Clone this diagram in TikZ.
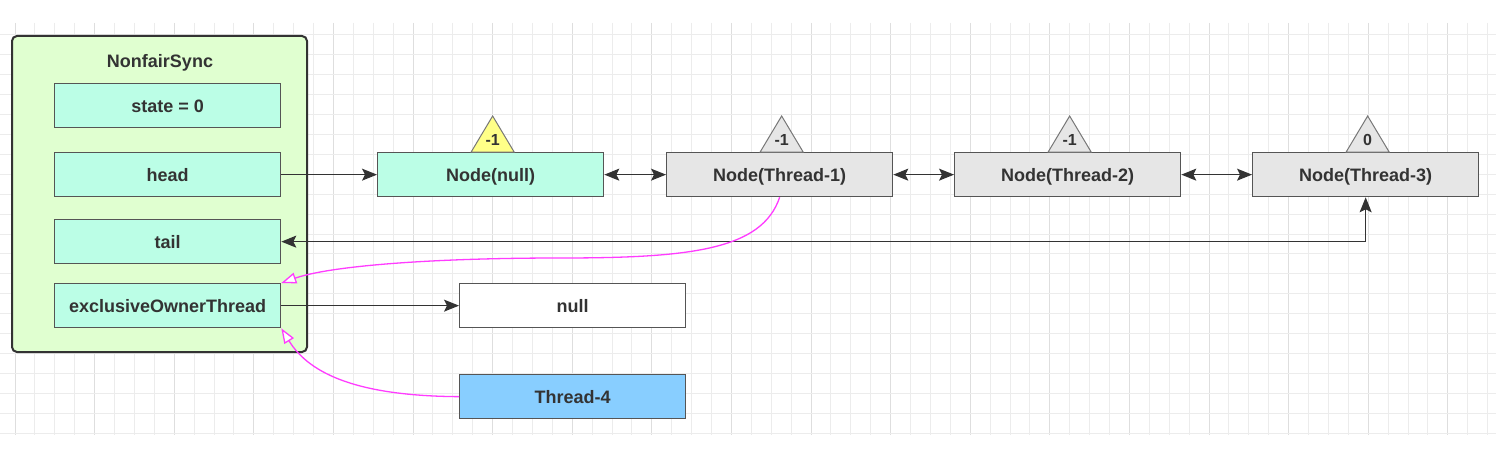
\documentclass[tikz,border=0pt]{standalone}
\usepackage{fontspec}
\setmainfont{Liberation Sans}
\usetikzlibrary{arrows.meta,calc}
\definecolor{gridminor}{RGB}{236,236,236}
\definecolor{gridmajor}{RGB}{222,222,222}
\definecolor{boxline}{RGB}{85,85,85}
\definecolor{txt}{RGB}{51,51,51}
\definecolor{mint}{RGB}{187,254,230}
\definecolor{greybox}{RGB}{230,230,230}
\definecolor{syncfill}{RGB}{224,255,208}
\definecolor{bluebox}{RGB}{136,206,255}
\definecolor{yellowtri}{RGB}{255,255,136}
\definecolor{pinkc}{RGB}{255,60,255}
\definecolor{arrowc}{RGB}{51,51,51}
\tikzset{
  fld/.style={draw=boxline, line width=1.3pt, minimum width=226pt, minimum height=44pt,
    inner sep=0pt, anchor=north west, text=txt, text height=13pt, text depth=0pt,
    font=\fontsize{18}{20}\selectfont\bfseries},
  tri/.style={draw=boxline!80, line width=1pt},
  trilabel/.style={text=txt, font=\fontsize{16}{18}\selectfont\bfseries, inner sep=0pt},
  conn/.style={draw=arrowc, line width=1.3pt, -{Stealth[length=15pt,width=12pt,inset=3pt]}},
  biconn/.style={draw=arrowc, line width=1.3pt, {Stealth[length=15pt,width=12pt,inset=3pt]}-{Stealth[length=15pt,width=12pt,inset=3pt]}},
  own/.style={draw=pinkc, line width=1.3pt, -{Triangle[length=15pt,width=11pt,fill=white]}}
}
\begin{document}
\begin{tikzpicture}[x=1pt,y=-1pt]
\useasboundingbox[fill=white] (0,0) rectangle (1504,452);
% grid
\foreach \k in {0,...,74}{
  \pgfmathsetmacro{\gx}{15+19.9*\k}
  \pgfmathtruncatemacro{\mj}{mod(\k,4)}
  \ifnum\mj=0
    \draw[gridmajor, line width=1pt] (\gx,23) -- (\gx,435);
  \else
    \draw[gridminor, line width=1pt] (\gx,23) -- (\gx,435);
  \fi
}
\foreach \j in {0,...,20}{
  \pgfmathsetmacro{\gy}{35+19.9*\j}
  \draw[gridminor, line width=1pt] (0,\gy) -- (1496,\gy);
}
% container
\draw[draw=arrowc, fill=syncfill, line width=2pt, rounded corners=5pt] (12,36) rectangle (307,352);
\node[text=txt, text height=13pt, text depth=0pt, font=\fontsize{18}{20}\selectfont\bfseries] (title) at (160,61) {NonfairSync};
\node[fld, fill=mint] (state) at (54,83) {state = 0};
\node[fld, fill=mint] (head) at (54,152) {head};
\node[fld, fill=mint] (tail) at (54,219) {tail};
\node[fld, fill=mint] (eot) at (54,283) {exclusiveOwnerThread};
% queue nodes
\node[fld, fill=mint] (n0) at (377,152) {Node(null)};
\node[fld, fill=greybox] (n1) at (666,152) {Node(Thread-1)};
\node[fld, fill=greybox] (n2) at (954,152) {Node(Thread-2)};
\node[fld, fill=greybox] (n3) at (1252,152) {Node(Thread-3)};
\node[fld, fill=white] (nul) at (459,283) {null};
\node[fld, fill=bluebox] (t4) at (459,374) {Thread-4};
% triangles
\foreach \n/\f/\v in {n0/yellowtri/-1, n1/greybox/-1, n2/greybox/-1, n3/greybox/0}{
  \draw[tri, fill=\f] ($(\n.north)+(-19.5,0)$) -- ($(\n.north)+(2,-36)$) -- ($(\n.north)+(23.5,0)$) -- cycle;
  \node[trilabel] (\n lab) at ($(\n.north)+(2,-12)$) {\v};
}
% connectors
\draw[conn] (head.east) -- (n0.west);
\draw[biconn] (n0.east) -- (n1.west);
\draw[biconn] (n1.east) -- (n2.west);
\draw[biconn] (n2.east) -- (n3.west);
\draw[biconn] (tail.east) -| (n3.south);
\draw[conn] (eot.east) -- (nul.west);
% ownership curves
\draw[own] (n1.south) .. controls (762,250) and (690,258) .. (560,258)
  .. controls (430,258) and (330,266) .. (eot.north east);
\draw[own] (t4.west) .. controls (360,396) and (310,375) .. (eot.south east);
\end{tikzpicture}
\end{document}
